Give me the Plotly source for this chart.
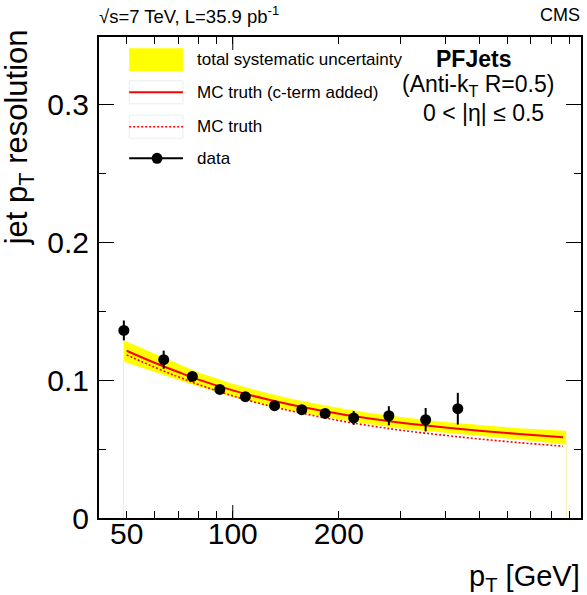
import math
import plotly.graph_objects as go

# ---- data ----
data_pt = [49.1, 63.7, 76.8, 91.9, 108.6, 131.4, 157.0, 182.8, 220.3, 277.2, 352.5, 434.9]
data_res = [0.1359, 0.1147, 0.1026, 0.0932, 0.0879, 0.0814, 0.0785, 0.0758, 0.0725, 0.0741, 0.0712, 0.0792]
data_err = [0.0072, 0.0066, 0.0030, 0.0030, 0.0030, 0.0030, 0.0030, 0.0030, 0.0050, 0.0069, 0.0085, 0.0115]

curve_pt = [50, 60, 70, 80, 100, 125, 150, 200, 250, 300, 400, 500, 650, 865]
mc_cterm = [0.1212, 0.1125, 0.1058, 0.1003, 0.0925, 0.0860, 0.0815, 0.0755, 0.0717, 0.0690, 0.0656, 0.0633, 0.0608, 0.0585]
mc_truth = [0.1182, 0.1093, 0.1023, 0.0967, 0.0885, 0.0817, 0.0770, 0.0706, 0.0665, 0.0636, 0.0599, 0.0573, 0.0546, 0.0520]

band_pt = [49, 60, 70, 80, 100, 125, 150, 200, 250, 300, 400, 500, 650, 883]
band_up = [0.1288, 0.1190, 0.1115, 0.1055, 0.0973, 0.0905, 0.0858, 0.0797, 0.0758, 0.0731, 0.0696, 0.0673, 0.0650, 0.0633]
band_lo = [0.1132, 0.1058, 0.1000, 0.0951, 0.0877, 0.0815, 0.0772, 0.0713, 0.0676, 0.0649, 0.0616, 0.0594, 0.0568, 0.0531]

x_tickvals = [50, 100, 200]
x_ticktext = ["50", "100", "200"]
x_minor = [60, 70, 80, 90, 300, 400, 500, 600, 700, 800, 900]
y_tickvals = [0, 0.1, 0.2, 0.3]
y_ticktext = ["0", "0.1", "0.2", "0.3"]

legend_labels = ["total systematic uncertainty", "MC truth (c-term added)", "MC truth", "data"]

# ---- layout geometry ----
W, H = 587, 595
ML, MR, MT, MB = 99, 4, 37, 77
PW, PH = W - ML - MR, H - MT - MB
XR = [1.6206, 1.6206 + PW / 354.0]
YR = [0, PH / 1380.0]
FONT = "Liberation Sans, Arial, Helvetica, sans-serif"
YEL = "#ffff00"
RED = "#ff0000"


def px(xp):
    return (xp - ML) / PW


def py(yp):
    return (H - MB - yp) / PH


fig = go.Figure()

# systematic band
fig.add_trace(go.Scatter(
    x=band_pt + band_pt[::-1], y=band_up + band_lo[::-1],
    fill="toself", fillcolor=YEL, line=dict(width=0),
    mode="lines", hoverinfo="skip", showlegend=False))
# thin vertical edges of the band down to zero
for i in (0, -1):
    fig.add_trace(go.Scatter(
        x=[band_pt[i], band_pt[i]], y=[0, band_lo[i]], mode="lines",
        line=dict(color="#f7f39a", width=1), hoverinfo="skip", showlegend=False))

fig.add_trace(go.Scatter(
    x=curve_pt, y=mc_truth, mode="lines",
    line=dict(color=RED, width=1.6, dash="2px,2px", shape="spline"), showlegend=False))
fig.add_trace(go.Scatter(
    x=curve_pt, y=mc_cterm, mode="lines",
    line=dict(color=RED, width=2, shape="spline"), showlegend=False))
fig.add_trace(go.Scatter(
    x=data_pt, y=data_res, mode="markers",
    marker=dict(color="black", size=11),
    error_y=dict(type="data", array=data_err, color="black", thickness=2, width=0),
    showlegend=False))

axis_common = dict(showline=True, linecolor="black", linewidth=2, mirror="allticks",
                   ticks="inside", tickcolor="black", tickwidth=1, showgrid=False,
                   zeroline=False, tickfont=dict(family=FONT, size=30, color="black"))

fig.update_xaxes(type="log", range=XR, tickmode="array", tickvals=x_tickvals,
                 ticktext=x_ticktext, ticklen=7, ticklabelstandoff=-12,
                 minor=dict(tickmode="array", tickvals=x_minor, ticks="inside",
                            ticklen=7, tickcolor="black", tickwidth=1, showgrid=False),
                 **axis_common)
fig.update_yaxes(range=YR, tickmode="array", tickvals=y_tickvals, ticktext=y_ticktext,
                 ticklen=15, ticklabelstandoff=2,
                 minor=dict(dtick=0.05, ticks="inside", ticklen=7, tickcolor="black",
                            tickwidth=1, showgrid=False),
                 **axis_common)

shapes = []
# long tick at 100 (bottom and top)
x100 = (math.log10(100) - XR[0]) / (XR[1] - XR[0])
shapes.append(dict(type="line", xref="paper", yref="paper", x0=x100, x1=x100,
                   y0=0, y1=13 / PH, line=dict(color="black", width=1)))
shapes.append(dict(type="line", xref="paper", yref="paper", x0=x100, x1=x100,
                   y0=1, y1=1 - 13 / PH, line=dict(color="black", width=1)))

# manual legend
lx0, lx1 = px(129.3), px(183.3)
rows = [59.7, 92.3, 126.7, 158.3]
for yc in rows[1:3]:
    shapes.append(dict(type="rect", xref="paper", yref="paper", x0=lx0, x1=lx1,
                       y0=py(yc - 11.5), y1=py(yc + 11.5),
                       line=dict(color="#ececec", width=1)))
shapes.append(dict(type="rect", xref="paper", yref="paper", x0=lx0, x1=lx1,
                   y0=py(71), y1=py(48.3), fillcolor=YEL, line=dict(width=0)))
shapes.append(dict(type="line", xref="paper", yref="paper", x0=lx0, x1=lx1,
                   y0=py(rows[1]), y1=py(rows[1]), line=dict(color=RED, width=2)))
shapes.append(dict(type="line", xref="paper", yref="paper", x0=lx0, x1=lx1,
                   y0=py(rows[2]), y1=py(rows[2]),
                   line=dict(color=RED, width=1.6, dash="2px,2px")))
shapes.append(dict(type="line", xref="paper", yref="paper", x0=lx0, x1=lx1,
                   y0=py(rows[3]), y1=py(rows[3]), line=dict(color="black", width=2)))
shapes.append(dict(type="circle", xref="paper", yref="paper",
                   x0=px(157.3 - 5.5), x1=px(157.3 + 5.5),
                   y0=py(rows[3] + 5.5), y1=py(rows[3] - 5.5),
                   fillcolor="black", line=dict(color="black", width=0)))

annotations = []
for lab, yc in zip(legend_labels, rows):
    annotations.append(dict(text=lab, x=px(195.5), y=py(yc), xref="paper", yref="paper",
                            xanchor="left", yanchor="middle", showarrow=False,
                            font=dict(family=FONT, size=17, color="black")))

annotations += [
    dict(text="<b>PFJets</b>", x=px(475), y=py(58.5), xref="paper", yref="paper",
         xanchor="center", yanchor="middle", showarrow=False,
         font=dict(family=FONT, size=23, color="black")),
    dict(text="(Anti-k<sub>T</sub> R=0.5)", x=px(479.5), y=py(86), xref="paper", yref="paper",
         xanchor="center", yanchor="middle", showarrow=False,
         font=dict(family=FONT, size=23, color="black")),
    dict(text="0 &lt; |η| ≤ 0.5", x=px(484.7), y=py(113), xref="paper", yref="paper",
         xanchor="center", yanchor="middle", showarrow=False,
         font=dict(family=FONT, size=23, color="black")),
    dict(text="√s=7 TeV, L=35.9 pb<sup>-1</sup>", x=px(97), y=py(15), xref="paper", yref="paper",
         xanchor="left", yanchor="middle", showarrow=False,
         font=dict(family=FONT, size=18.5, color="black")),
    dict(text="CMS", x=px(584), y=py(15), xref="paper", yref="paper",
         xanchor="right", yanchor="middle", showarrow=False,
         font=dict(family=FONT, size=18, color="black")),
    dict(text="p<sub>T</sub> [GeV]", x=px(584), y=py(578), xref="paper", yref="paper",
         xanchor="right", yanchor="middle", showarrow=False,
         font=dict(family=FONT, size=29, color="black")),
    dict(text="jet p<sub>T</sub> resolution", x=px(19), y=py(27), xref="paper", yref="paper",
         xanchor="center", yanchor="top", textangle=-90, showarrow=False,
         font=dict(family=FONT, size=31, color="black")),
]

fig.update_layout(width=W, height=H, autosize=False,
                  margin=dict(l=ML, r=MR, t=MT, b=MB, pad=0),
                  paper_bgcolor="white", plot_bgcolor="white",
                  shapes=shapes, annotations=annotations, showlegend=False)

fig.write_html("out.html", config={"displayModeBar": False},
               post_script="document.body.style.margin='0px';document.body.style.padding='0px';document.body.style.overflow='hidden';")
